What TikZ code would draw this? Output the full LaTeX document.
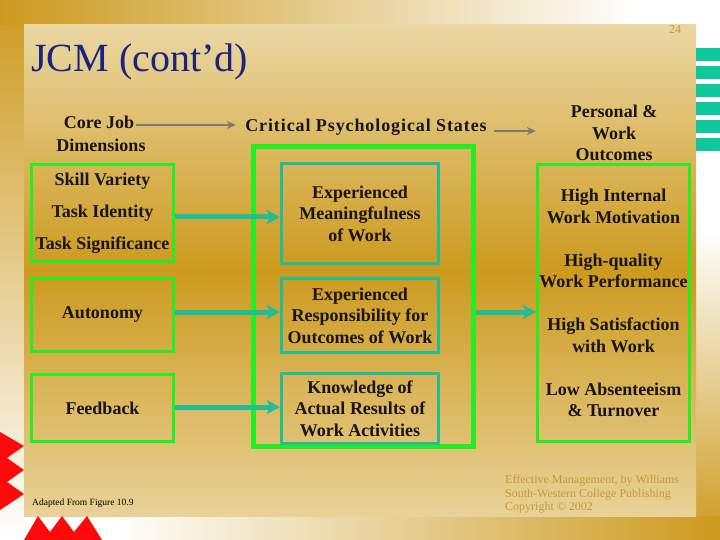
\documentclass[tikz,border=0pt]{standalone}
\usepackage{fontspec}
\setmainfont{Liberation Serif}
\usetikzlibrary{arrows.meta,positioning,calc,backgrounds}
\definecolor{jcmgold}{HTML}{CC9A1E}
\definecolor{jcmsand}{HTML}{EBD7A3}
\definecolor{jcmlime}{HTML}{22EE22}
\definecolor{jcmteal}{HTML}{22BC95}
\definecolor{jcmbar}{HTML}{10C89E}
\definecolor{jcmnavy}{HTML}{1A237E}
\definecolor{jcmred}{HTML}{FF0A0A}
\definecolor{jcmgray}{HTML}{7A7A7A}
\definecolor{jcmink}{HTML}{1A1410}
\definecolor{jcmnote}{HTML}{C49A36}
\tikzset{
  % rutor
  lbl/.style={font=\bfseries\fontsize{18}{21.5}\selectfont,text=jcmink,align=center},
  dimbox/.style={lbl,draw=jcmlime,line width=3.2pt,minimum width=142pt,inner sep=0pt},
  statebox/.style={lbl,draw=jcmteal,line width=3.4pt,minimum width=157pt,inner sep=0pt},
  psychbox/.style={draw=jcmlime,line width=4.2pt,minimum width=220pt,minimum height=300pt,inner sep=0pt},
  outbox/.style={lbl,draw=jcmlime,line width=3.2pt,minimum width=152pt,minimum height=277pt,inner sep=0pt},
  % pilar
  grayarr/.style={-{Stealth[length=9pt,width=8pt]},draw=jcmgray,line width=2.8pt},
  tealarr/.style={-{Stealth[length=13pt,width=14pt,inset=3pt]},draw=jcmteal,line width=5pt},
  note/.style={font=\fontsize{12}{13.5}\selectfont,text=jcmnote,align=left,inner sep=0pt},
}
\begin{document}
\begin{tikzpicture}[x=1pt,y=-1pt]
\useasboundingbox (0,0) rectangle (720,540);
  \begin{scope}[on background layer]
  \fill[white] (0,0) rectangle (720,540);
  \shade[top color=jcmgold,bottom color=white] (0,0) rectangle (24,540);
  \shade[left color=jcmgold,right color=white] (0,0) rectangle (640,25);
  \shade[top color=white,bottom color=jcmgold] (696,230) rectangle (720,540);
  \shade[left color=white,right color=jcmgold] (110,516) rectangle (720,540);
  \shade[top color=jcmsand,bottom color=jcmsand!92!jcmgold,middle color=jcmgold] (24,25) rectangle (696,516);
  \foreach \y in {48,66,...,138}
    \fill[jcmbar] (696,\y) rectangle (720,\y+13);
  \fill[jcmred] (0,432) -- (24,446) -- (7,458) -- (24,470) -- (7,482) -- (24,494) -- (0,510) -- cycle;
  \fill[jcmred] (24,540) -- (38,516) -- (50,532) -- (62,516) -- (74,532) -- (87,516) -- (102,540) -- cycle;
  \end{scope}
  \node[font=\fontsize{40}{40}\selectfont,text=jcmnavy,anchor=west,inner sep=0pt] (title) at (31,62) {JCM (cont’d)};
  \node[font=\fontsize{12}{12}\selectfont,text=jcmnote] (page) at (675,30) {24};
  % rubriker
  \node[lbl] (corejob) at (99,122) {Core Job};
  \node[lbl] (dims) at (101,145) {Dimensions};
  \node[lbl] (critical) at (366,127) {\addfontfeature{LetterSpace=5}Critical Psychological States};
  \node[lbl] (personal) at (614,133) {Personal \&\\Work\\Outcomes};
  % lådor
  \node[dimbox,minimum height=97pt,font=\bfseries\fontsize{18}{32}\selectfont] (skills) at (102.5,213) {Skill Variety\\Task Identity\\Task Significance};
  \node[dimbox,minimum height=73pt] (autonomy) at (102.5,315) {Autonomy};
  \node[dimbox,minimum height=67pt] (feedback) at (102.5,408) {Feedback};
  \node[psychbox] (psych) at (363.5,296.5) {};
  \node[statebox,minimum height=100pt] (meaning) at (360,213.5) {Experienced\\Meaningfulness\\of Work};
  \node[statebox,minimum height=74pt] (responsib) at (360,315.5) {Experienced\\Responsibility for\\Outcomes of Work};
  \node[statebox,minimum height=70pt] (knowledge) at (360,408.5) {Knowledge of\\Actual Results of\\Work Activities};
  \node[outbox] (outcomes) at (613.5,303) {High Internal\\Work Motivation\\[21.5pt]High-quality\\Work Performance\\[21.5pt]High Satisfaction\\with Work\\[21.5pt]Low Absenteeism\\\& Turnover};
  % pilar
  \draw[grayarr,shorten <=-2pt,shorten >=6pt] ([yshift=-3pt]corejob.east) -- ([yshift=-3pt]corejob.east -| critical.west);
  \draw[grayarr,shorten <=4pt] ([yshift=-4pt]critical.east) -- ([yshift=-4pt]critical.east -| outcomes.west);
  \draw[tealarr] (skills.east |- 0,217) -- (meaning.west |- 0,217);
  \draw[tealarr] (autonomy.east |- 0,312) -- (responsib.west |- 0,312);
  \draw[tealarr] (feedback.east |- 0,407) -- (knowledge.west |- 0,407);
  \draw[tealarr] (psych.east |- 0,312) -- (outcomes.west |- 0,312);
  % noter
  \node[font=\fontsize{9.5}{10}\selectfont,text=black,anchor=west,inner sep=0pt] (source) at (32,503) {Adapted From Figure 10.9};
  \node[note,anchor=north west] (credit) at (505,475) {Effective Management, by Williams\\South-Western College Publishing\\Copyright © 2002};
\end{tikzpicture}
\end{document}
